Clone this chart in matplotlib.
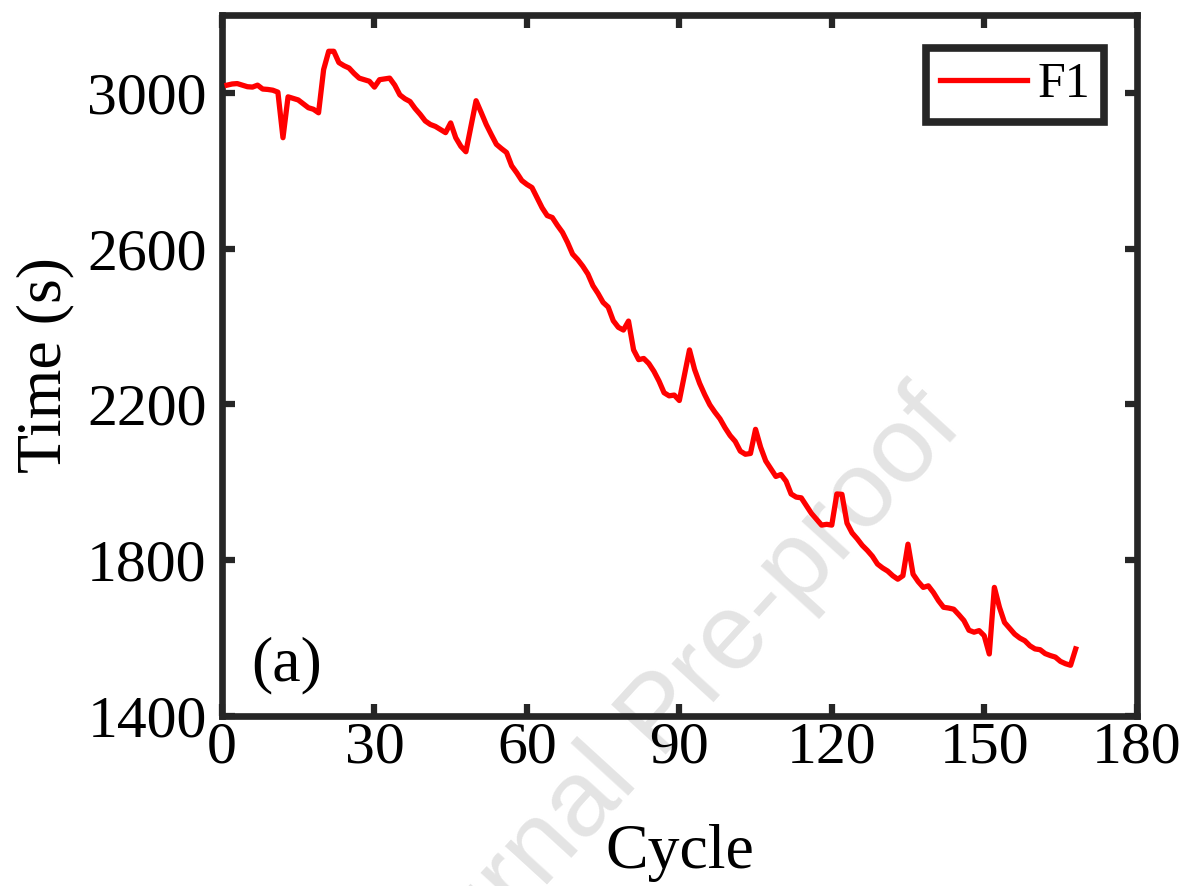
import matplotlib
matplotlib.use('Agg')
import matplotlib.pyplot as plt
import numpy as np

plt.rcParams['font.family'] = ['Liberation Serif', 'DejaVu Serif']
plt.rcParams['mathtext.fontset'] = 'stix'

# discharge time per cycle
cycles = np.arange(1, 169)
f1 = [3020, 3023, 3024, 3020, 3016, 3015, 3020, 3010, 3009, 3007,
      3002, 2885, 2990, 2986, 2982, 2972, 2962, 2958, 2949, 3060,
      3107, 3107, 3078, 3070, 3064, 3050, 3038, 3034, 3030, 3015,
      3034, 3036, 3038, 3020, 2995, 2985, 2978, 2960, 2945, 2928,
      2919, 2914, 2906, 2898, 2923, 2885, 2863, 2849, 2915, 2980,
      2950, 2919, 2893, 2868, 2857, 2847, 2813, 2795, 2775, 2765,
      2757, 2731, 2705, 2685, 2680, 2660, 2642, 2616, 2586, 2572,
      2555, 2535, 2505, 2485, 2462, 2450, 2415, 2398, 2391, 2414,
      2340, 2315, 2318, 2305, 2285, 2260, 2230, 2222, 2224, 2210,
      2275, 2340, 2290, 2254, 2225, 2199, 2180, 2163, 2140, 2120,
      2105, 2080, 2072, 2074, 2136, 2090, 2055, 2035, 2015, 2020,
      2003, 1970, 1962, 1960, 1940, 1920, 1905, 1890, 1892, 1890,
      1970, 1969, 1895, 1870, 1855, 1838, 1825, 1810, 1790, 1780,
      1772, 1760, 1751, 1760, 1841, 1764, 1745, 1730, 1734, 1717,
      1696, 1679, 1677, 1674, 1660, 1645, 1620, 1615, 1619, 1606,
      1559, 1730, 1679, 1640, 1625, 1610, 1600, 1593, 1580, 1572,
      1570, 1560, 1555, 1551, 1540, 1534, 1530, 1572]

xticks = [0, 30, 60, 90, 120, 150, 180]
yticks = [1400, 1800, 2200, 2600, 3000]

edge = '#262626'

fig = plt.figure(figsize=(11.84, 8.86), dpi=100)
ax = fig.add_axes([0.1875, 0.192, 0.7725, 0.791])

ax.plot(cycles, f1, color='#ff0000', lw=3.8, label='F1', zorder=3)

ax.set_xlim(0, 180)
ax.set_ylim(1400, 3200)
ax.set_xticks(xticks)
ax.set_yticks(yticks)
ax.tick_params(direction='in', length=9, width=4.5, color=edge,
               labelsize=43, top=True, right=True)
ax.tick_params(axis='x', pad=4)
ax.tick_params(axis='y', pad=11)
for s in ax.spines.values():
    s.set_linewidth(4.8)
    s.set_color(edge)

ax.set_xlabel('Cycle', fontsize=46, labelpad=35)
ax.set_ylabel('Time (s)', fontsize=46, labelpad=9)

ax.text(0.071, 0.072, '(a)', transform=ax.transAxes, fontsize=46,
        ha='center', va='center')

leg = ax.legend(loc='upper right', fontsize=36, handlelength=1.75,
                fancybox=False, framealpha=1, borderpad=0.28,
                handletextpad=0.2, borderaxespad=0.65)
leg.get_frame().set_linewidth(5.5)
leg.get_frame().set_edgecolor(edge)

# watermark of the source pdf
ax.text(0.559, 0.190, 'Journal Pre-proof', transform=fig.transFigure,
        fontsize=78, family='Liberation Sans', color='#e4e4e4',
        rotation=47.6, ha='center', va='center', zorder=1, clip_on=False)

fig.savefig('out.png', dpi=100)
